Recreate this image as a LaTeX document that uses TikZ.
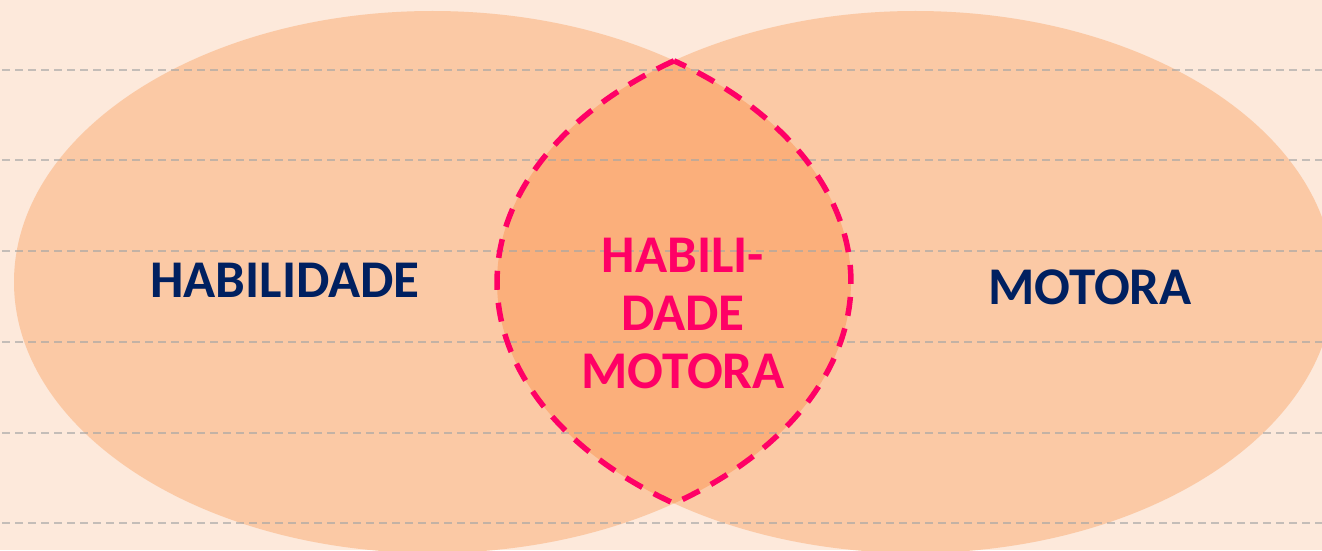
\documentclass[tikz,border=0pt]{standalone}
\usepackage{fontspec}
\setmainfont{Carlito}
\definecolor{bgc}{HTML}{FDE9DB}
\definecolor{ellc}{HTML}{FBC9A5}
\definecolor{lensc}{HTML}{FBAF7B}
\definecolor{magc}{HTML}{FF0066}
\definecolor{navyc}{HTML}{002060}
\definecolor{gridc}{HTML}{A6A6A6}
\tikzset{
  ell/.style={fill=ellc, draw=none},
  gridline/.style={draw=gridc, draw opacity=0.65, line width=2pt, dash pattern=on 8pt off 5pt},
  lensline/.style={draw=magc, line width=5.5pt, dash pattern=on 19pt off 13pt},
  bigtext/.style={font=\bfseries\fontsize{53}{58}\selectfont, align=center, inner sep=0pt}
}
\begin{document}
\begin{tikzpicture}[x=1pt,y=1pt]
\fill[bgc] (0,0) rectangle (1322,550);
\useasboundingbox (0,0) rectangle (1322,550);
% ellipses
\fill[ell] (432.5,268) ellipse[x radius=418.5, y radius=271];
\fill[ell] (915.5,268) ellipse[x radius=418.5, y radius=271];
% lens
\coordinate (T) at (674,489.2);
\coordinate (B) at (674,46.8);
\fill[lensc] (T) arc[start angle=125.25, end angle=234.75, x radius=418.5, y radius=271]
  arc[start angle=-54.75, end angle=54.75, x radius=418.5, y radius=271] -- cycle;
% grid lines
\foreach \yy in {70,160,251,342,433,523}{
  \draw[gridline] (2,550-\yy) -- (1322,550-\yy);
}
% lens outline
\draw[lensline] (T) arc[start angle=125.25, end angle=234.75, x radius=418.5, y radius=271]
  arc[start angle=-54.75, end angle=54.75, x radius=418.5, y radius=271] -- cycle;
% texts
\node[bigtext, text=navyc] (hab) at (285,270) {HABILIDADE};
\node[bigtext, text=navyc] (mot) at (1090,263) {MOTORA};
\node[bigtext, text=magc] (hm) at (683,237) {HABILI-\\DADE\\MOTORA};
\end{tikzpicture}
\end{document}
